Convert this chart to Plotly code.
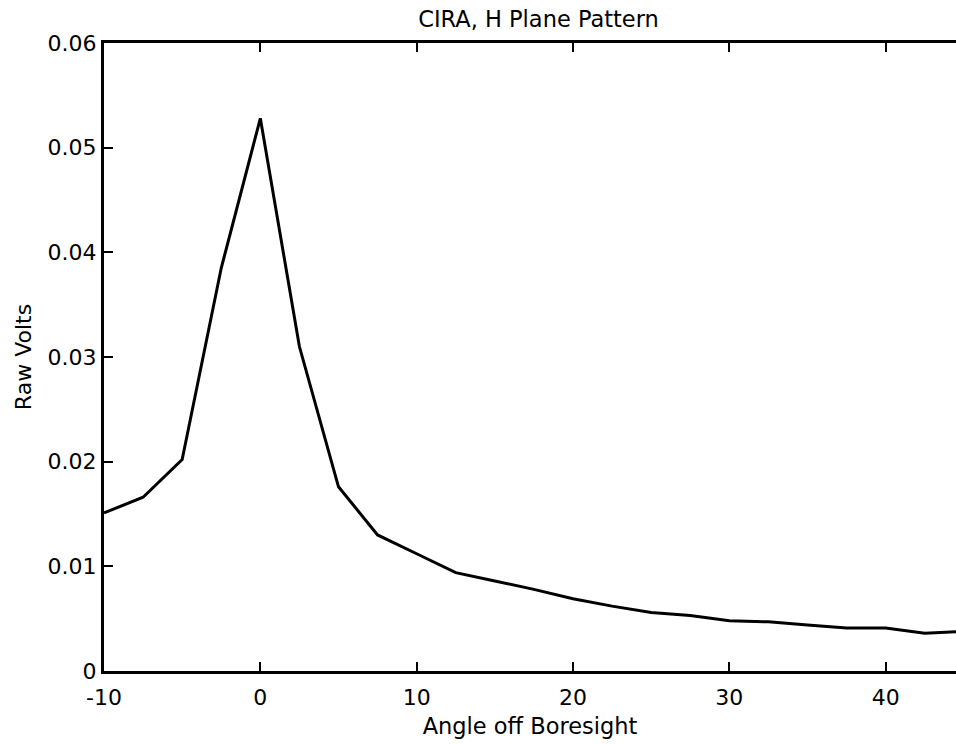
import plotly.graph_objects as go

# angle off boresight (deg) and measured raw volts
angle = [-10, -7.5, -5, -2.5, 0, 2.5, 5, 7.5, 10, 12.5, 15, 17.5, 20, 22.5,
         25, 27.5, 30, 32.5, 35, 37.5, 40, 42.5, 45]
volts = [0.0151, 0.0166, 0.0202, 0.0385, 0.0528, 0.0310, 0.0176, 0.0130,
         0.0112, 0.0094, 0.0086, 0.0078, 0.0069, 0.0062, 0.0056, 0.0053,
         0.0048, 0.0047, 0.0044, 0.0041, 0.0041, 0.0036, 0.0038]

x_ticks = [-10, 0, 10, 20, 30, 40]
x_labels = ["-10", "0", "10", "20", "30", "40"]
y_ticks = [0, 0.01, 0.02, 0.03, 0.04, 0.05, 0.06]
y_labels = ["0", "0.01", "0.02", "0.03", "0.04", "0.05", "0.06"]

fig = go.Figure()
fig.add_trace(go.Scatter(
    x=angle,
    y=volts,
    mode="lines",
    line=dict(color="black", width=3),
    showlegend=False,
))

fig.update_layout(
    width=956,
    height=744,
    margin=dict(l=104, r=0, t=43, b=73),
    paper_bgcolor="white",
    plot_bgcolor="white",
    font=dict(family="DejaVu Sans", color="black", size=22),
    title=dict(text="CIRA, H Plane Pattern", x=0.51, xanchor="center",
               xref="paper", yref="paper", y=1, yanchor="bottom",
               pad=dict(b=16), font=dict(size=22.5)),
)

# plot area runs off the right edge, as in the reference
fig.update_xaxes(
    range=[-10, 44.5],
    tickvals=x_ticks,
    ticktext=x_labels,
    tickfont=dict(size=22),
    ticks="inside",
    ticklen=9,
    tickwidth=2,
    tickcolor="black",
    ticklabelstandoff=5,
    showline=True,
    linecolor="black",
    linewidth=3,
    mirror="ticks",
    showgrid=False,
    zeroline=False,
    automargin=False,
    title=dict(text="Angle off Boresight", font=dict(size=22.5), standoff=9),
)
fig.update_yaxes(
    range=[0, 0.06],
    tickvals=y_ticks,
    ticktext=y_labels,
    tickfont=dict(size=22),
    ticks="inside",
    ticklen=9,
    tickwidth=2,
    tickcolor="black",
    showline=True,
    linecolor="black",
    linewidth=3,
    showgrid=False,
    zeroline=False,
    automargin=False,
    title=dict(text="Raw Volts", font=dict(size=22), standoff=10),
)

# drop the default page margin so the figure sits at the window's corner
fig.write_html(
    "out.html",
    config={"displayModeBar": False},
    post_script="document.body.style.margin='0';document.body.style.overflow='hidden';",
)
